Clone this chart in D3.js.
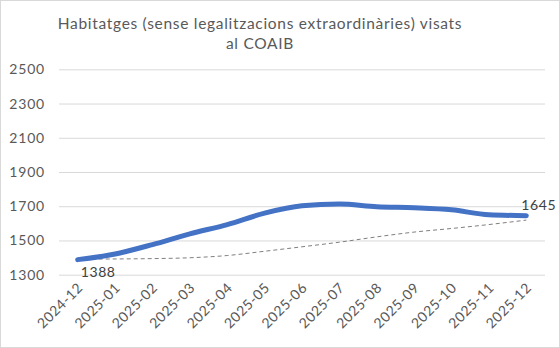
<!DOCTYPE html>
<html><head><meta charset="utf-8">
<script src="https://cdn.jsdelivr.net/npm/d3@7"></script>
<style>
html,body{margin:0;padding:0;background:#fff;}
svg{display:block;font-family:Lato,"Open Sans",sans-serif;}
</style></head><body>
<svg id="c" width="560" height="348"></svg>
<script>
const categories = ["2024-12","2025-01","2025-02","2025-03","2025-04","2025-05","2025-06","2025-07","2025-08","2025-09","2025-10","2025-11","2025-12"];
const values = [1388, 1421, 1476, 1539, 1593, 1660, 1703, 1713, 1697, 1691, 1679, 1650, 1645];
const trend = [1391, 1392, 1394, 1399, 1412, 1437, 1463, 1490, 1521, 1549, 1570, 1593, 1619];
const yTicks = [1300, 1500, 1700, 1900, 2100, 2300, 2500];
const titleLines = ["Habitatges (sense legalitzacions extraordinàries) visats", "al COAIB"];

const svg = d3.select("#c");
const W = 560, H = 348;
svg.append("rect").attr("x",0.5).attr("y",0.5).attr("width",W-1).attr("height",H-1)
  .attr("fill","#fff").attr("stroke","#d9d9d9");

const m = {left:59, right:15, top:69.3, bottom:73.3};
const x = d3.scaleBand().domain(categories).range([m.left, W-m.right]).padding(0);
const y = d3.scaleLinear().domain([1300,2500]).range([H-m.bottom, m.top]);
const cx = d => x(d) + x.bandwidth()/2;
const FONT = "Lato,'Open Sans',sans-serif";

// title
svg.append("text").attr("x",280).attr("y",0).attr("text-anchor","middle")
  .attr("fill","#595959").attr("font-size",15.5).attr("letter-spacing","0.7px")
  .selectAll("tspan").data(titleLines).join("tspan")
  .attr("x",260).attr("y",(d,i)=>29+i*20).text(d=>d);

// grid + y axis
const yAxis = d3.axisLeft(y).tickValues(yTicks).tickFormat(d3.format("d"))
  .tickSize(-(W-m.left-m.right)).tickPadding(14);
const gy = svg.append("g").attr("transform",`translate(${m.left},0)`).call(yAxis);
gy.select(".domain").remove();
gy.selectAll(".tick line").attr("stroke","#d9d9d9").attr("stroke-width",1);
gy.selectAll(".tick text").attr("fill","#595959").attr("font-size",14)
  .attr("font-family",FONT).attr("letter-spacing","0.8px");

// x axis
const xAxis = d3.axisBottom(x).tickSize(0).tickPadding(0);
const gx = svg.append("g").attr("transform",`translate(0,${H-m.bottom})`).call(xAxis);
gx.select(".domain").remove();
gx.selectAll(".tick text").attr("fill","#595959").attr("font-size",14)
  .attr("font-family",FONT).attr("letter-spacing","0.5px")
  .attr("text-anchor","end").attr("dy",0)
  .attr("transform","translate(6,14) rotate(-45)");

// trend line (dashed)
const line = d3.line().x((d,i)=>cx(categories[i])).y(d=>y(d)).curve(d3.curveMonotoneX);
svg.append("path").datum(trend).attr("d",line).attr("fill","none")
  .attr("stroke","#7f7f7f").attr("stroke-width",1).attr("stroke-dasharray","4,3");

// main line
svg.append("path").datum(values).attr("d",line).attr("fill","none")
  .attr("stroke","#4472C4").attr("stroke-width",5).attr("stroke-linecap","round").attr("stroke-linejoin","round");

// labels
const first = 0, last = values.length-1;
svg.append("text").attr("x",cx(categories[first])+3).attr("y",y(values[first])+17)
  .attr("fill","#404040").attr("font-size",14).attr("letter-spacing","0.6px").text(values[first]);
svg.append("text").attr("x",cx(categories[last])-5).attr("y",y(values[last])-6)
  .attr("fill","#404040").attr("font-size",14).attr("letter-spacing","0.6px").text(values[last]);
</script>
</body></html>
